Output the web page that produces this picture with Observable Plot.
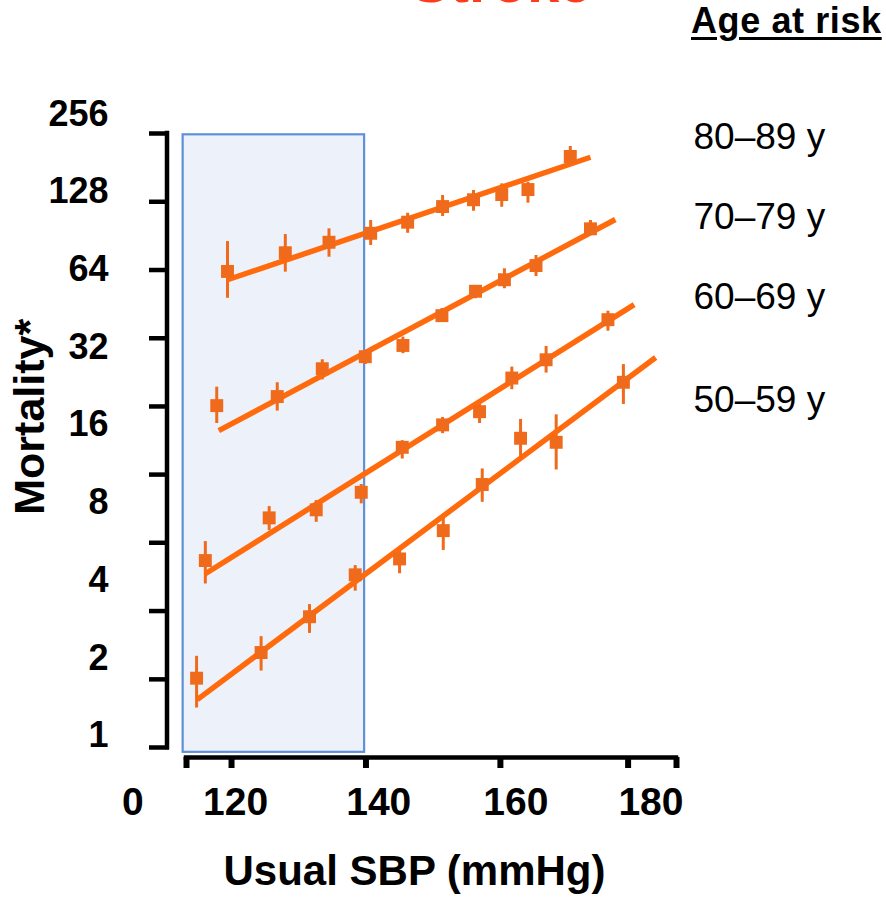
<!DOCTYPE html>
<html>
<head>
<meta charset="utf-8">
<script src="https://cdn.jsdelivr.net/npm/d3@7"></script>
<script src="https://cdn.jsdelivr.net/npm/@observablehq/plot@0.6"></script>
<style>
  html, body { margin: 0; padding: 0; background: #fff; }
  #wrap { width: 886px; font-family: "Liberation Sans", Arial, sans-serif; }
  #header { position: relative; width: 886px; height: 50px; overflow: hidden; }
  #title { position: absolute; left: 411px; top: -47px; font-weight: bold; font-size: 58px; line-height: 58px; color: #FF3B1E; white-space: nowrap; }
  #legendTitle { position: absolute; left: 691px; top: 3px; font-weight: bold; font-size: 36px; line-height: 36px; letter-spacing: 0.6px; color: #000; text-decoration: underline; text-decoration-thickness: 3px; text-underline-offset: 4px; white-space: nowrap; }
</style>
</head>
<body>
<div id="wrap">
  <div id="header"><span id="title">Stroke</span><span id="legendTitle">Age at risk</span></div>
  <div id="chart"></div>
</div>
<script>
// ---- data ----
const ageGroups = ["50–59 y", "60–69 y", "70–79 y", "80–89 y"];

const sbp5059  = [114.8, 124.4, 131.6, 138.4, 145.0, 151.5, 157.3, 163.0, 168.3, 178.3];
const mort5059 = [1.67, 2.10, 2.89, 4.20, 4.84, 6.23, 9.40, 14.2, 13.7, 23.4];
const lo5059   = [1.28, 1.78, 2.49, 3.63, 4.24, 5.22, 8.02, 12.0, 10.7, 19.2];
const hi5059   = [2.03, 2.42, 3.22, 4.56, 5.22, 7.02, 10.8, 16.8, 17.5, 27.4];

const sbp6069  = [116.1, 125.6, 132.6, 139.3, 145.4, 151.4, 156.9, 161.7, 166.8, 176.0];
const mort6069 = [4.77, 6.98, 7.50, 8.77, 13.1, 16.0, 18.0, 24.3, 28.6, 40.9];
const lo6069   = [3.87, 6.23, 6.71, 7.91, 11.8, 14.8, 16.2, 21.9, 25.4, 36.9];
const hi6069   = [5.65, 7.72, 8.15, 9.40, 13.9, 17.1, 19.3, 26.8, 32.2, 44.1];

const sbp7079  = [117.8, 126.8, 133.5, 139.9, 145.5, 151.3, 156.3, 160.6, 165.3, 173.4];
const mort7079 = [19.0, 20.6, 26.4, 29.4, 32.5, 42.4, 52.7, 58.4, 66.3, 92.0];
const lo7079   = [16.2, 18.1, 23.9, 27.4, 30.2, 40.0, 49.3, 53.9, 60.1, 86.7];
const hi7079   = [22.4, 23.3, 28.6, 31.1, 35.0, 45.2, 55.5, 64.4, 72.5, 99.1];

const sbp8089  = [119.4, 128.0, 134.5, 140.7, 146.2, 151.4, 156.0, 160.2, 164.1, 170.4];
const mort8089 = [62.9, 74.3, 81.6, 88.4, 97.6, 112.2, 119.2, 124.9, 130.6, 175.4];
const lo8089   = [49.5, 62.5, 71.4, 79.3, 88.4, 102.7, 107.6, 111.5, 115.6, 164.3];
const hi8089   = [82.1, 87.4, 92.0, 99.1, 105.7, 123.8, 129.5, 137.4, 139.4, 191.7];

// fitted lines (start and end of each regression line)
const fitStartSbp  = [114.9, 116.1, 118.1, 119.4];
const fitStartMort = [1.38, 4.24, 15.2, 58.4];
const fitEndSbp    = [183.1, 179.9, 177.1, 173.4];
const fitEndMort   = [29.2, 46.8, 100.0, 174.2];

// where each age label sits on the mortality scale
const ageLabelMort = [19.9, 49.8, 101.8, 207.8];
// where the y-axis title is centred on the mortality scale
const yTitleMort = 17.2;

// shaded reference region (SBP below 140)
const shadeSbp  = [112.8, 139.8];
const shadeMort = [0.862, 212.8];

// axes
const yTicks = [0.9, 1.653, 3.04, 5.59, 10.27, 18.86, 34.65, 63.7, 117.1, 215.3];
const yTickLabels = [1, 2, 4, 8, 16, 32, 64, 128, 256];
const xTicks = [113.3, 120, 140, 160, 179.0, 186.2];
const xTickLabels = ["0", "120", "140", "160", "180"];
const xTickLabelAt = [105.3, 120.6, 141.9, 162.3, 182.4];

// ---- tables built from the arrays ----
const series = [
  [sbp5059, mort5059, lo5059, hi5059],
  [sbp6069, mort6069, lo6069, hi6069],
  [sbp7079, mort7079, lo7079, hi7079],
  [sbp8089, mort8089, lo8089, hi8089]
];
const points = series.flatMap(([s, m, lo, hi], g) =>
  s.map((x, i) => ({group: ageGroups[g], sbp: x, mort: m[i], lo: lo[i], hi: hi[i]})));
const fits = ageGroups.map((g, i) => ({group: g, x1: fitStartSbp[i], y1: fitStartMort[i], x2: fitEndSbp[i], y2: fitEndMort[i]}));
const ageLabels = ageGroups.map((g, i) => ({label: g, mort: ageLabelMort[i]}));
const xLabelRows = xTickLabels.map((t, i) => ({label: t, x: xTickLabelAt[i]}));
const shade = [{x1: shadeSbp[0], x2: shadeSbp[1], y1: shadeMort[0], y2: shadeMort[1]}];

const markerColor = "#F06A1C";
const lineColor = "#FF6A0D";
const xd = [xTicks[0], xTicks[xTicks.length - 1]];
const yd = [yTicks[0], yTicks[yTicks.length - 1]];

const chart = Plot.plot({
  width: 886,
  height: 851,
  marginLeft: 186,
  marginRight: 210,
  marginTop: 83,
  marginBottom: 154,
  x: {domain: xd},
  y: {type: "log", base: 2, domain: yd},
  style: {fontFamily: "'Liberation Sans', Arial, sans-serif", background: "#fff", color: "#000", overflow: "visible"},
  marks: [
    Plot.rect(shade, {x1: "x1", x2: "x2", y1: "y1", y2: "y2", fill: "#EDF2FA", stroke: "#5E90DA", strokeWidth: 2.2}),
    // y axis line and ticks
    Plot.ruleX([xd[0]], {y1: yd[0], y2: yd[1], dx: -19.5, stroke: "#000", strokeWidth: 4.5, strokeLinecap: "square"}),
    Plot.axisY(yTicks, {anchor: "left", tickSize: 20, dx: -17, strokeWidth: 4.5, stroke: "#000", tickFormat: () => "", label: null}),
    // x axis line and ticks
    Plot.ruleY([yd[0]], {x1: xd[0], x2: xd[1], dy: 10, stroke: "#000", strokeWidth: 4.5, strokeLinecap: "square"}),
    Plot.axisX(xTicks, {anchor: "bottom", tickSize: 11, dy: 10, strokeWidth: 6, stroke: "#000", tickFormat: () => "", label: null}),
    // tick labels
    Plot.text(yTickLabels, {y: d => d, text: d => String(d), frameAnchor: "left", textAnchor: "end", dx: -78, fontSize: 36, fontWeight: "bold", fill: "#000"}),
    Plot.text(xLabelRows, {x: "x", text: "label", frameAnchor: "bottom", dy: 67, fontSize: 39, fontWeight: "bold", fill: "#000"}),
    // axis titles
    Plot.text([{label: "Mortality*", mort: yTitleMort}], {y: "mort", text: "label", frameAnchor: "left", textAnchor: "middle", dx: -156, rotate: -90, fontSize: 43, fontWeight: "bold", fill: "#000"}),
    Plot.text(["Usual SBP (mmHg)"], {frameAnchor: "bottom", textAnchor: "middle", dx: -17, dy: 137, fontSize: 42, fontWeight: "bold", fill: "#000"}),
    // data
    Plot.ruleX(points, {x: "sbp", y1: "lo", y2: "hi", stroke: markerColor, strokeWidth: 3}),
    Plot.link(fits, {x1: "x1", y1: "y1", x2: "x2", y2: "y2", stroke: lineColor, strokeWidth: 5.5}),
    Plot.dot(points, {x: "sbp", y: "mort", symbol: "square", r: 7.3, fill: markerColor, stroke: "none"}),
    // age labels
    Plot.text(ageLabels, {y: "mort", text: "label", frameAnchor: "right", textAnchor: "start", dx: 17, fontSize: 37, fill: "#000"})
  ]
});
document.getElementById("chart").appendChild(chart);
</script>
</body>
</html>
